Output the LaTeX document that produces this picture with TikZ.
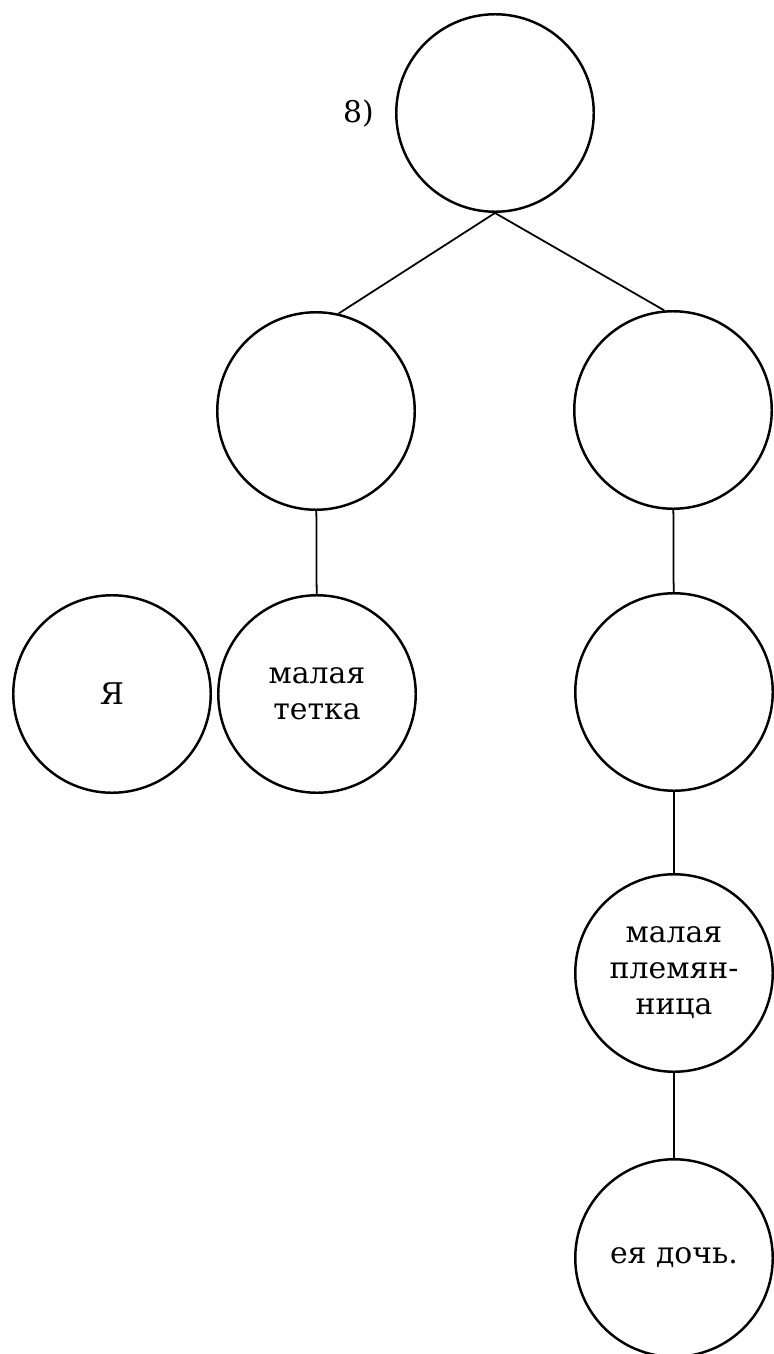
\documentclass[tikz,border=0pt]{standalone}
\usepackage{fontspec}
\setmainfont{DejaVu Serif}
\usetikzlibrary{positioning}

\begin{document}
\begin{tikzpicture}[
  kin/.style={circle, draw, line width=1.4pt, minimum size=3.95cm, inner sep=0pt,
    align=center, font=\fontsize{17}{20.5}\selectfont},
  link/.style={line width=1pt}
]
  \useasboundingbox (0,0) rectangle (15.46,-27.08);

  % Top circle with its number
  \node[kin] (top) at (9.9,-2.26) {};
  \node[left=0.3cm of top, font=\fontsize{17}{20.5}\selectfont] (num) {8)};

  % Second row: two circles
  \node[kin] (midleft) at (6.32,-8.22) {};
  \node[kin] (midright) at (13.46,-8.2) {};
  \draw[link] (top.south) -- (midleft.77);
  \draw[link] (top.south) -- (midright.95);

  % Third row: me, the small aunt, and the right branch
  \node[kin] (me) at (2.24,-13.88) {Я};
  \node[kin] (aunt) at (6.34,-13.88) {малая\\тетка};
  \node[kin] (lowright) at (13.48,-13.84) {};
  \draw[link] (midleft) -- (aunt);
  \draw[link] (midright) -- (lowright);

  % Right branch going down: niece and her daughter
  \node[kin] (niece) at (13.48,-19.46) {малая\\племян-\\ница};
  \node[kin] (daughter) at (13.48,-25.16) {ея дочь.};
  \draw[link] (lowright) -- (niece);
  \draw[link] (niece) -- (daughter);
\end{tikzpicture}
\end{document}
